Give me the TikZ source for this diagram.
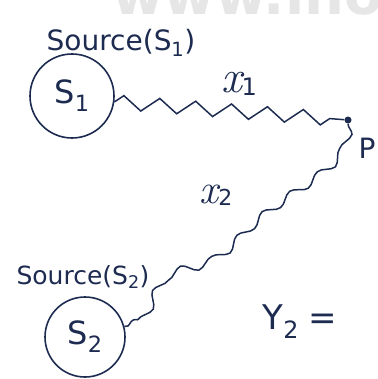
\documentclass[tikz,border=0pt]{standalone}
\usepackage{fontspec}
\setsansfont{DejaVu Sans}
\usepackage{tikz}
\usetikzlibrary{decorations.pathmorphing,positioning}
\definecolor{ink}{HTML}{1C2B4F}
\definecolor{wmgray}{HTML}{E6E6E6}

\begin{document}
\begin{tikzpicture}[
  x=1pt,y=-1pt,
  font=\sffamily,
  source/.style={circle,draw=ink,line width=1.6pt,text=ink,inner sep=0pt,
                 font=\sffamily\fontsize{32}{36}\selectfont},
  inktext/.style={text=ink,inner sep=0pt},
  wave/.style={draw=ink,line width=1.5pt,decorate}
]
\useasboundingbox (0,0) rectangle (377,379);
% faint watermark, cut by the top edge
\node[anchor=base west,text=wmgray,inner sep=0pt,
      font=\sffamily\bfseries\fontsize{56}{56}\selectfont] (watermark) at (112,15) {www.inot};

\node[source,minimum size=84pt] (s1) at (72,96) {S\textsubscript{1}};
\node[source,minimum size=80pt] (s2) at (85,337) {S\textsubscript{2}};
\node[inktext,font=\sffamily\fontsize{28}{30}\selectfont] (src1) at (121,43) {Source(S\textsubscript{1})};
\node[inktext,font=\sffamily\fontsize{25}{26}\selectfont] (src2) at (83,277) {Source(S\textsubscript{2})};

\node[circle,fill=ink,inner sep=0pt,minimum size=7pt] (p) at (348,120) {};
\node[inktext,font=\sffamily\fontsize{28}{30}\selectfont] (plabel) at (367,148) {P};
\node[inktext,font=\rmfamily\itshape\fontsize{46}{48}\selectfont] (x1) at (239,84)
  {x\raisebox{-3pt}{\sffamily\upshape\fontsize{24}{24}\selectfont 1}};
\node[inktext,font=\rmfamily\itshape\fontsize{42}{44}\selectfont] (x2) at (216,195)
  {x\raisebox{-2pt}{\sffamily\upshape\fontsize{22}{22}\selectfont 2}};
\node[inktext,font=\sffamily\fontsize{34}{36}\selectfont] (y2) at (300,322) {Y\textsubscript{2}\hspace{10pt}=};

% paths from the sources to P
\draw[wave,decoration={zigzag,segment length=36pt,amplitude=7pt}] (s1.-8) -- (p);
\draw[wave,decoration={snake,segment length=34pt,amplitude=4pt}] (p)
  .. controls (348,160) and (300,175) .. (255,215)
  .. controls (225,245) and (220,255) .. (180,262)
  .. controls (150,268) and (160,310) .. (s2.15);
\end{tikzpicture}
\end{document}
